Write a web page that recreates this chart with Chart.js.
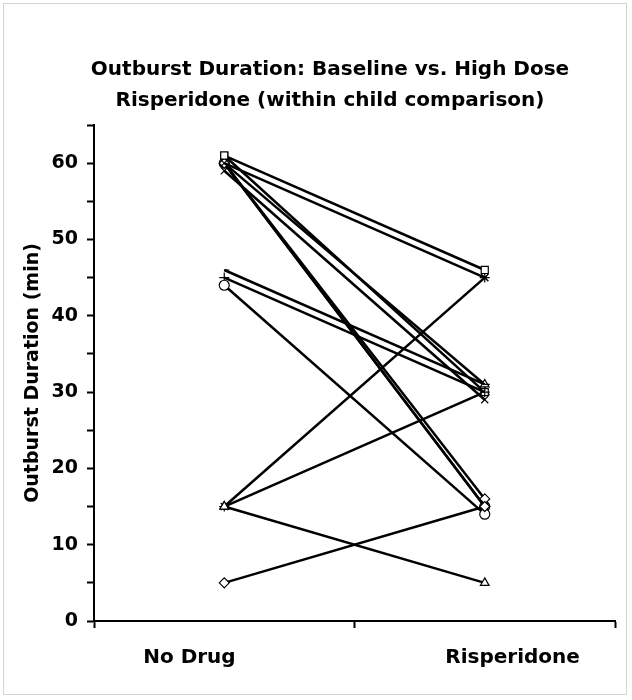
<!DOCTYPE html>
<html>
<head>
<meta charset="utf-8">
<script src="https://cdn.jsdelivr.net/npm/chart.js@4/dist/chart.umd.min.js"></script>
<style>
  body { margin: 0; background: #fff; }
  #frame { position: absolute; left: 0; top: 0; width: 632px; height: 700px; }
  #border { position: absolute; left: 3px; top: 3px; width: 624px; height: 692px; border: 1px solid #d4d4d4; box-sizing: border-box; pointer-events: none; }
</style>
</head>
<body>
<div id="frame"><canvas id="chart" width="632" height="700"></canvas></div>
<div id="border"></div>
<script>
// x categories
var categories = ['No Drug', 'Risperidone'];
// one entry per child: outburst duration (min) at baseline and on high dose
var noDrug      = [5, 61, 15, 60, 15, 44, 45, 46, 60, 61, 60, 59, 60, 60, 15];
var risperidone = [15, 46, 5, 45, 45, 14, 30, 31, 16, 30, 31, 29, 15, 15, 30];
var markers = ['rectRot', 'rect', 'triangle', 'crossRot', 'star', 'circle', 'cross', 'dash',
               'rectRot', 'rect', 'triangle', 'crossRot', 'star', 'circle', 'triangle'];
var yTicks = { min: 0, max: 65, step: 5, labelEvery: 10 };
var titleLines = ['Outburst Duration: Baseline vs. High Dose', 'Risperidone (within child comparison)'];

var font = 'DejaVu Sans';

var datasets = noDrug.map(function(v, i) {
    return {
        label: 'Child ' + (i + 1),
        data: [v, risperidone[i]],
        borderColor: '#000',
        borderWidth: 2.5,
        pointStyle: markers[i],
        pointRadius: 5,
        pointBorderWidth: 1.2,
        pointBorderColor: '#000',
        pointBackgroundColor: '#fff',
        fill: false,
        tension: 0
    };
});

// title drawn as text above the plot
var titlePlugin = {
    id: 'topTitle',
    afterDraw: function(chart) {
        var c = chart.ctx;
        c.save();
        c.fillStyle = '#000';
        c.font = 'bold 20px "' + font + '"';
        c.textAlign = 'center';
        c.textBaseline = 'middle';
        c.fillText(titleLines[0], 330, 70);
        c.fillText(titleLines[1], 330, 101);
        c.restore();
    }
};

var ctx = document.getElementById('chart').getContext('2d');
var chart = new Chart(ctx, {
    type: 'line',
    data: { labels: categories, datasets: datasets },
    plugins: [titlePlugin],
    options: {
        responsive: false,
        animation: false,
        layout: { padding: { top: 125, right: 17, bottom: 12, left: 0 } },
        plugins: {
            legend: { display: false },
            tooltip: { enabled: false }
        },
        scales: {
            x: {
                type: 'category',
                offset: true,
                grid: { display: true, offset: true, drawOnChartArea: false, drawTicks: true, tickLength: 7, tickColor: '#000', tickWidth: 2 },
                border: { display: true, color: '#000', width: 2 },
                ticks: {
                    color: '#000', padding: 18, maxRotation: 0,
                    font: { family: font, size: 20, weight: 'bold' },
                    // the original labels sit a little outward from the category centres
                    callback: function(v, i) {
                        var s = this.getLabelForValue(v);
                        return i === 0 ? s + '          ' : '        ' + s;
                    }
                }
            },
            y: {
                min: yTicks.min,
                max: yTicks.max,
                afterFit: function(scale) { scale.width = 94; },
                grid: { display: true, drawOnChartArea: false, drawTicks: true, tickLength: 7, tickColor: '#000', tickWidth: 2 },
                border: { display: true, color: '#000', width: 2 },
                ticks: {
                    stepSize: yTicks.step,
                    color: '#000',
                    padding: 9,
                    font: { family: font, size: 19, weight: 'bold' },
                    callback: function(v) { return v % yTicks.labelEvery === 0 ? v : ''; }
                },
                title: {
                    display: true,
                    text: 'Outburst Duration (min)',
                    color: '#000',
                    padding: { top: 22, bottom: 0 },
                    font: { family: font, size: 19, weight: 'bold' }
                }
            }
        }
    }
});
</script>
</body>
</html>
